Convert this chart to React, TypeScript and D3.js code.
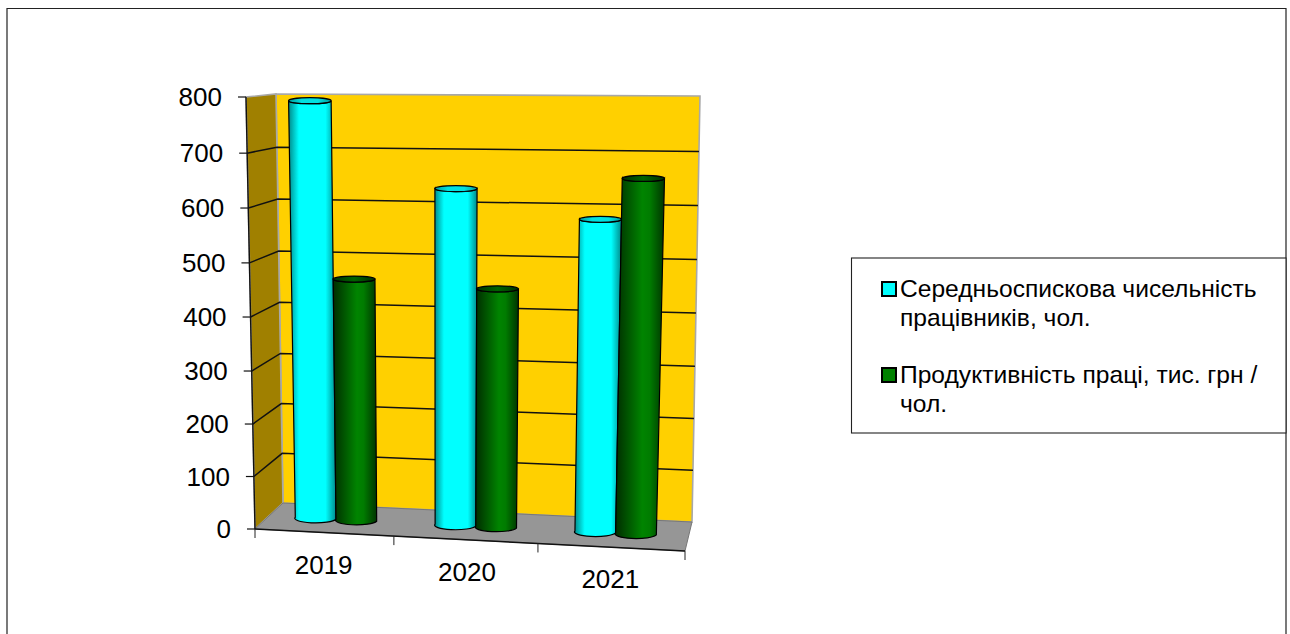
import React from "react";
import * as d3 from "d3";

const years = ["2019", "2020", "2021"];
const headcount = [791, 633, 581];
const productivity = [462, 450, 656];
const valueTicks = [0, 100, 200, 300, 400, 500, 600, 700, 800];
// Share of the box height reached at each value tick (the camera foreshortens the axis)
const tickHeights = [0, 0.1215, 0.243, 0.3657, 0.4907, 0.616, 0.743, 0.87, 1];
const categoryTicks = [0, 0.323, 0.658, 1];
const legendFirst = ["Середньоспискова чисельність", "працівників, чол."];
const legendSecond = ["Продуктивність праці, тис. грн /", "чол."];

const FONT = "'Liberation Sans', Arial, sans-serif";

type Pt = [number, number];
// Corners of the 3D plot box, as seen by the camera
const box = {
  floor: { fl: [255, 529] as Pt, bl: [283, 503] as Pt, br: [692, 522] as Pt, fr: [685, 551] as Pt },
  roof: { fl: [246, 97] as Pt, bl: [276, 94] as Pt, br: [700, 96] as Pt, fr: [700, 99] as Pt },
};

const mix = (a: Pt, b: Pt, t: number): Pt => [a[0] + (b[0] - a[0]) * t, a[1] + (b[1] - a[1]) * t];

const height = d3.scaleLinear().domain(valueTicks).range(tickHeights);
const along = d3.scaleBand<string>().domain(years).range([0, 1]);

// u runs along the categories, depth from front (0) to back (1), t from floor to roof
function project(u: number, t: number, depth: number): Pt {
  const level = (q: typeof box.floor): Pt => mix(mix(q.fl, q.fr, u), mix(q.bl, q.br, u), depth);
  return mix(level(box.floor), level(box.roof), t);
}

const line = d3.line<Pt>();
const polygon = (pts: Pt[]) => line(pts) + "Z";

const BAR_U = 0.097;
const BAR_SHIFT = -0.007;
const BAR_DEPTH = 0.5;
const CAP_RY = 3;
const BASE_RY = 4.5;

function Cylinder({ u, value, body, cap }: { u: number; value: number; body: string; cap: string }) {
  const t = height(value);
  const lowL = project(u - BAR_U / 2, 0, BAR_DEPTH);
  const lowR = project(u + BAR_U / 2, 0, BAR_DEPTH);
  const topL = project(u - BAR_U / 2, t, BAR_DEPTH);
  const topR = project(u + BAR_U / 2, t, BAR_DEPTH);
  const rxLow = (lowR[0] - lowL[0]) / 2;
  const rxTop = (topR[0] - topL[0]) / 2;
  const d = `M${topL[0]},${topL[1]}L${lowL[0]},${lowL[1]}A${rxLow},${BASE_RY} 0 0 0 ${lowR[0]},${lowR[1]}L${topR[0]},${topR[1]}A${rxTop},${CAP_RY} 0 0 1 ${topL[0]},${topL[1]}Z`;
  return (
    <g stroke="#000" strokeWidth={1.2}>
      <path d={d} fill={`url(#${body})`} />
      <ellipse cx={(topL[0] + topR[0]) / 2} cy={(topL[1] + topR[1]) / 2} rx={rxTop} ry={CAP_RY} fill={`url(#${cap})`} />
    </g>
  );
}

function Shade({ id, stops }: { id: string; stops: [number, string][] }) {
  return (
    <linearGradient id={id} x1="0" x2="1" y1="0" y2="0">
      {stops.map(([o, c]) => <stop key={o} offset={o} stopColor={c} />)}
    </linearGradient>
  );
}

export default function App() {
  const bw = along.bandwidth();
  return (
    <svg width={1290} height={634} style={{ position: "absolute", left: 0, top: 0, background: "#fff" }} fontFamily={FONT}>
      <defs>
        <Shade id="cyanBody" stops={[[0, "#008a8a"], [0.22, "#00ffff"], [0.78, "#00ffff"], [1, "#008a8a"]]} />
        <Shade id="cyanCap" stops={[[0, "#009a9a"], [0.3, "#00e0e0"], [0.7, "#00e0e0"], [1, "#009a9a"]]} />
        <Shade id="greenBody" stops={[[0, "#002c00"], [0.55, "#008400"], [0.7, "#007c00"], [1, "#003400"]]} />
        <Shade id="greenCap" stops={[[0, "#003000"], [0.5, "#006400"], [1, "#003000"]]} />
      </defs>

      <path d="M7,634V8.5H1286V634" fill="none" stroke="#222" strokeWidth={1.2} />

      {/* walls and floor */}
      <path d={polygon([project(0, 0, 1), project(1, 0, 1), project(1, 1, 1), project(0, 1, 1)])} fill="#ffd000" stroke="#a8a8a8" strokeWidth={1.6} />
      <path d={polygon([project(0, 0, 0), project(0, 0, 1), project(0, 1, 1), project(0, 1, 0)])} fill="#a08000" stroke="#a8a8a8" strokeWidth={1.6} />
      <path d={polygon([project(0, 0, 0), project(0, 0, 1), project(1, 0, 1), project(1, 0, 0)])} fill="#969696" stroke="#777" strokeWidth={1} />

      {/* gridlines */}
      {valueTicks.slice(1, -1).map((v) => {
        const t = height(v);
        return (
          <path
            key={v}
            d={line([project(0, t, 0), project(0, t, 1), project(1, t, 1)]) ?? ""}
            fill="none"
            stroke="#111"
            strokeWidth={1.5}
          />
        );
      })}

      {/* value axis */}
      <path d={line([project(0, 0, 0), project(0, 1, 0)]) ?? ""} stroke="#111" strokeWidth={1.4} />
      {valueTicks.map((v) => {
        const [x, y] = project(0, height(v), 0);
        return (
          <g key={v}>
            <line x1={x - 8} x2={x} y1={y} y2={y} stroke="#111" strokeWidth={1.2} />
            <text x={x - 24} y={y + 9} textAnchor="end" fontSize={26} fill="#000">{v}</text>
          </g>
        );
      })}

      {/* category axis */}
      <path d={line([project(0, 0, 0), project(1, 0, 0)]) ?? ""} stroke="#111" strokeWidth={1.6} />
      {categoryTicks.map((u) => {
        const [x, y] = project(u, 0, 0);
        return <line key={u} x1={x} x2={x} y1={y} y2={y + 9} stroke="#222" strokeWidth={1} />;
      })}
      {years.map((year) => {
        const [x, y] = project((along(year) ?? 0) + bw / 2, 0, 0);
        return <text key={year} x={x - 3} y={y + 41} textAnchor="middle" fontSize={26} fill="#000">{year}</text>;
      })}

      {/* columns */}
      {years.map((year, i) => {
        const c = (along(year) ?? 0) + bw / 2 + BAR_SHIFT;
        return (
          <g key={year}>
            <Cylinder u={c - BAR_U / 2} value={headcount[i]} body="cyanBody" cap="cyanCap" />
            <Cylinder u={c + BAR_U / 2} value={productivity[i]} body="greenBody" cap="greenCap" />
          </g>
        );
      })}

      {/* legend */}
      <rect x={851.5} y={258} width={434.5} height={175} fill="#fff" stroke="#222" strokeWidth={1.1} />
      <rect x={882} y={282} width={14} height={14} fill="#00ffff" stroke="#000" strokeWidth={2} />
      <rect x={882} y={368} width={14} height={14} fill="#008000" stroke="#000" strokeWidth={2} />
      <g fontSize={24.6} fill="#000">
        <text x={900} y={297}>{legendFirst[0]}</text>
        <text x={900} y={326}>{legendFirst[1]}</text>
        <text x={900} y={383}>{legendSecond[0]}</text>
        <text x={900} y={412}>{legendSecond[1]}</text>
      </g>
    </svg>
  );
}
